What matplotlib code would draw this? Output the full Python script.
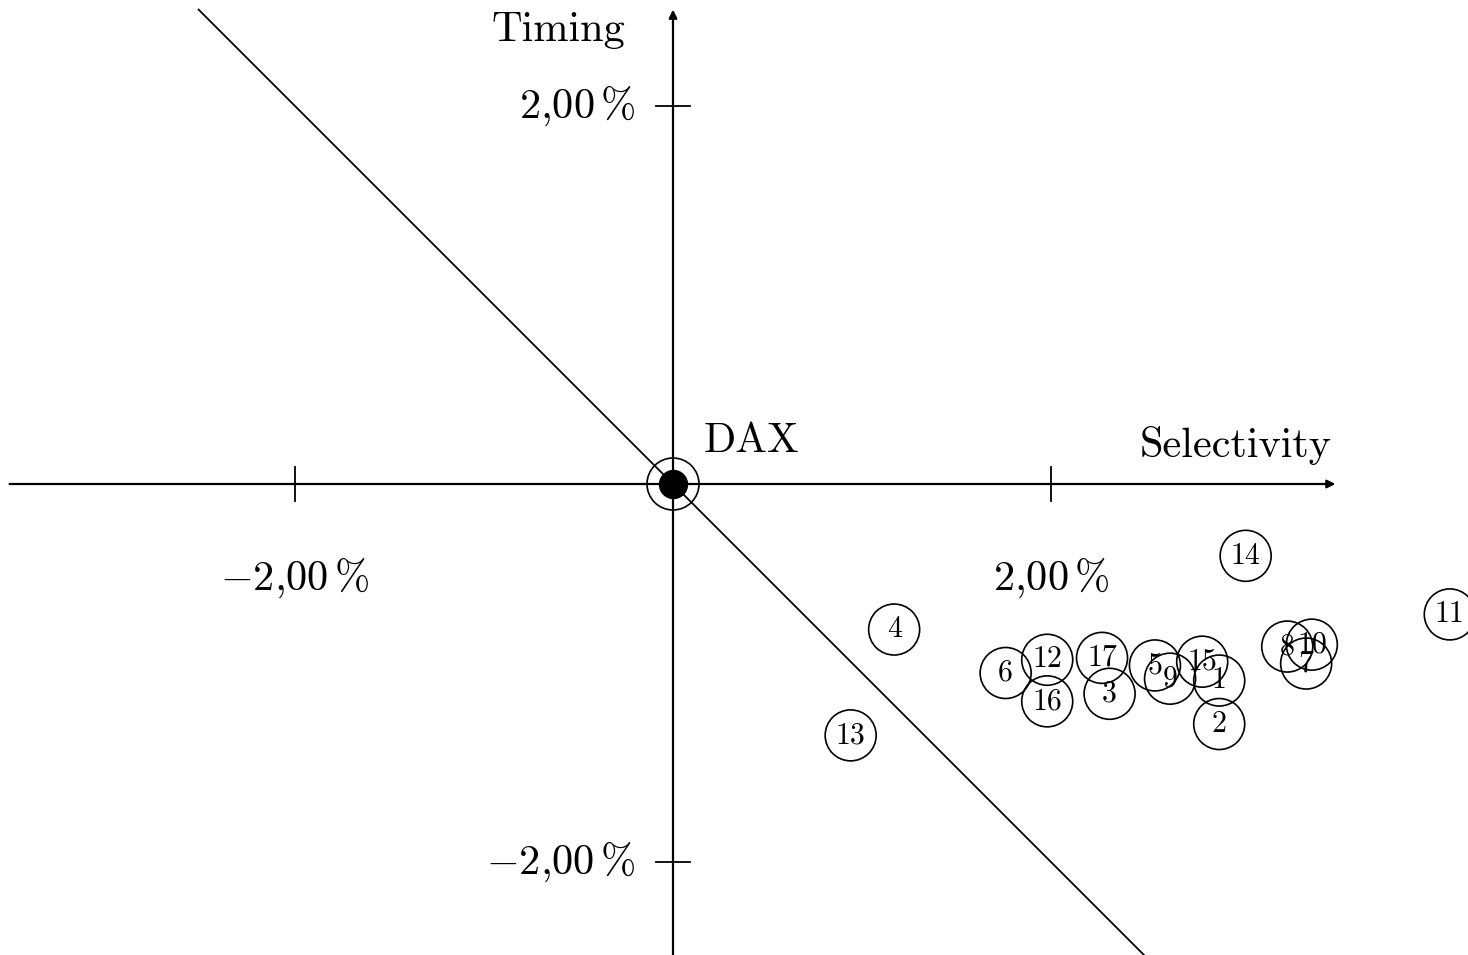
import numpy as np
import matplotlib
matplotlib.use('Agg')
import matplotlib.pyplot as plt

# Fund positions: selectivity (x) and timing (y) in %
funds = ['1', '2', '3', '4', '5', '6', '7', '8', '9', '10', '11', '12', '13', '14', '15', '16', '17']
selectivity = [2.89, 2.89, 2.31, 1.17, 2.55, 1.76, 3.35, 3.25, 2.63, 3.38, 4.11, 1.98, 0.94, 3.03, 2.80, 1.98, 2.27]
timing = [-1.04, -1.27, -1.11, -0.77, -0.96, -1.00, -0.95, -0.86, -1.03, -0.85, -0.69, -0.93, -1.33, -0.38, -0.94, -1.15, -0.92]

ticks = [-2.0, 2.0]
tick_labels = [r'$-2{,}00\,\%$', r'$2{,}00\,\%$']

plt.rcParams['font.family'] = 'serif'
plt.rcParams['font.serif'] = ['cmr10']
plt.rcParams['mathtext.fontset'] = 'cm'

W, H = 1468, 955
scale = 189.0  # px per 1 %
fig = plt.figure(figsize=(W / 100, H / 100), dpi=100)
ax = fig.add_axes([0, 0, 1, 1])
ax.set_xlim(-673 / scale, (W - 673) / scale)
ax.set_ylim(-(H - 484) / scale, 484 / scale)
ax.axis('off')

fs = 30.5

# axes with arrows
arrow = dict(arrowstyle='-|>', lw=1.6, color='k', mutation_scale=12, shrinkA=0, shrinkB=0)
ax.annotate('', xy=(3.505, 0), xytext=(-3.51, 0), arrowprops=arrow)
ax.annotate('', xy=(0, 2.51), xytext=(0, -2.5), arrowprops=arrow)

# diagonal
d = np.array([-2.51, 2.50])
ax.plot(d, -d, color='k', lw=1.3)

# ticks
for t, lab in zip(ticks, tick_labels):
    ax.plot([t, t], [-0.09, 0.09], color='k', lw=1.3)
    ax.plot([-0.09, 0.09], [t, t], color='k', lw=1.3)
    ax.text(t, -0.50, lab, fontsize=fs, ha='center', va='center')
    ax.text(-0.2, t, lab, fontsize=fs, ha='right', va='center')

ax.text(-0.255, 2.40, 'Timing', fontsize=fs, ha='right', va='center')
ax.text(3.487, 0.205, 'Selectivity', fontsize=fs, ha='right', va='center')
ax.text(0.16, 0.225, 'DAX', fontsize=fs, ha='left', va='center')

# DAX marker
ax.scatter([0], [0], s=(52 * 0.72) ** 2, facecolors='none', edgecolors='k', linewidths=1.2, zorder=3)
ax.scatter([0], [0], s=(28 * 0.72) ** 2, color='k', zorder=4)

# funds
ax.scatter(selectivity, timing, s=(51 * 0.72) ** 2, facecolors='none', edgecolors='k', linewidths=1.2, zorder=3)
for name, x, y in zip(funds, selectivity, timing):
    ax.text(x, y, name, fontsize=21.5, ha='center', va='center', zorder=4)

fig.savefig('out.png', dpi=100)
